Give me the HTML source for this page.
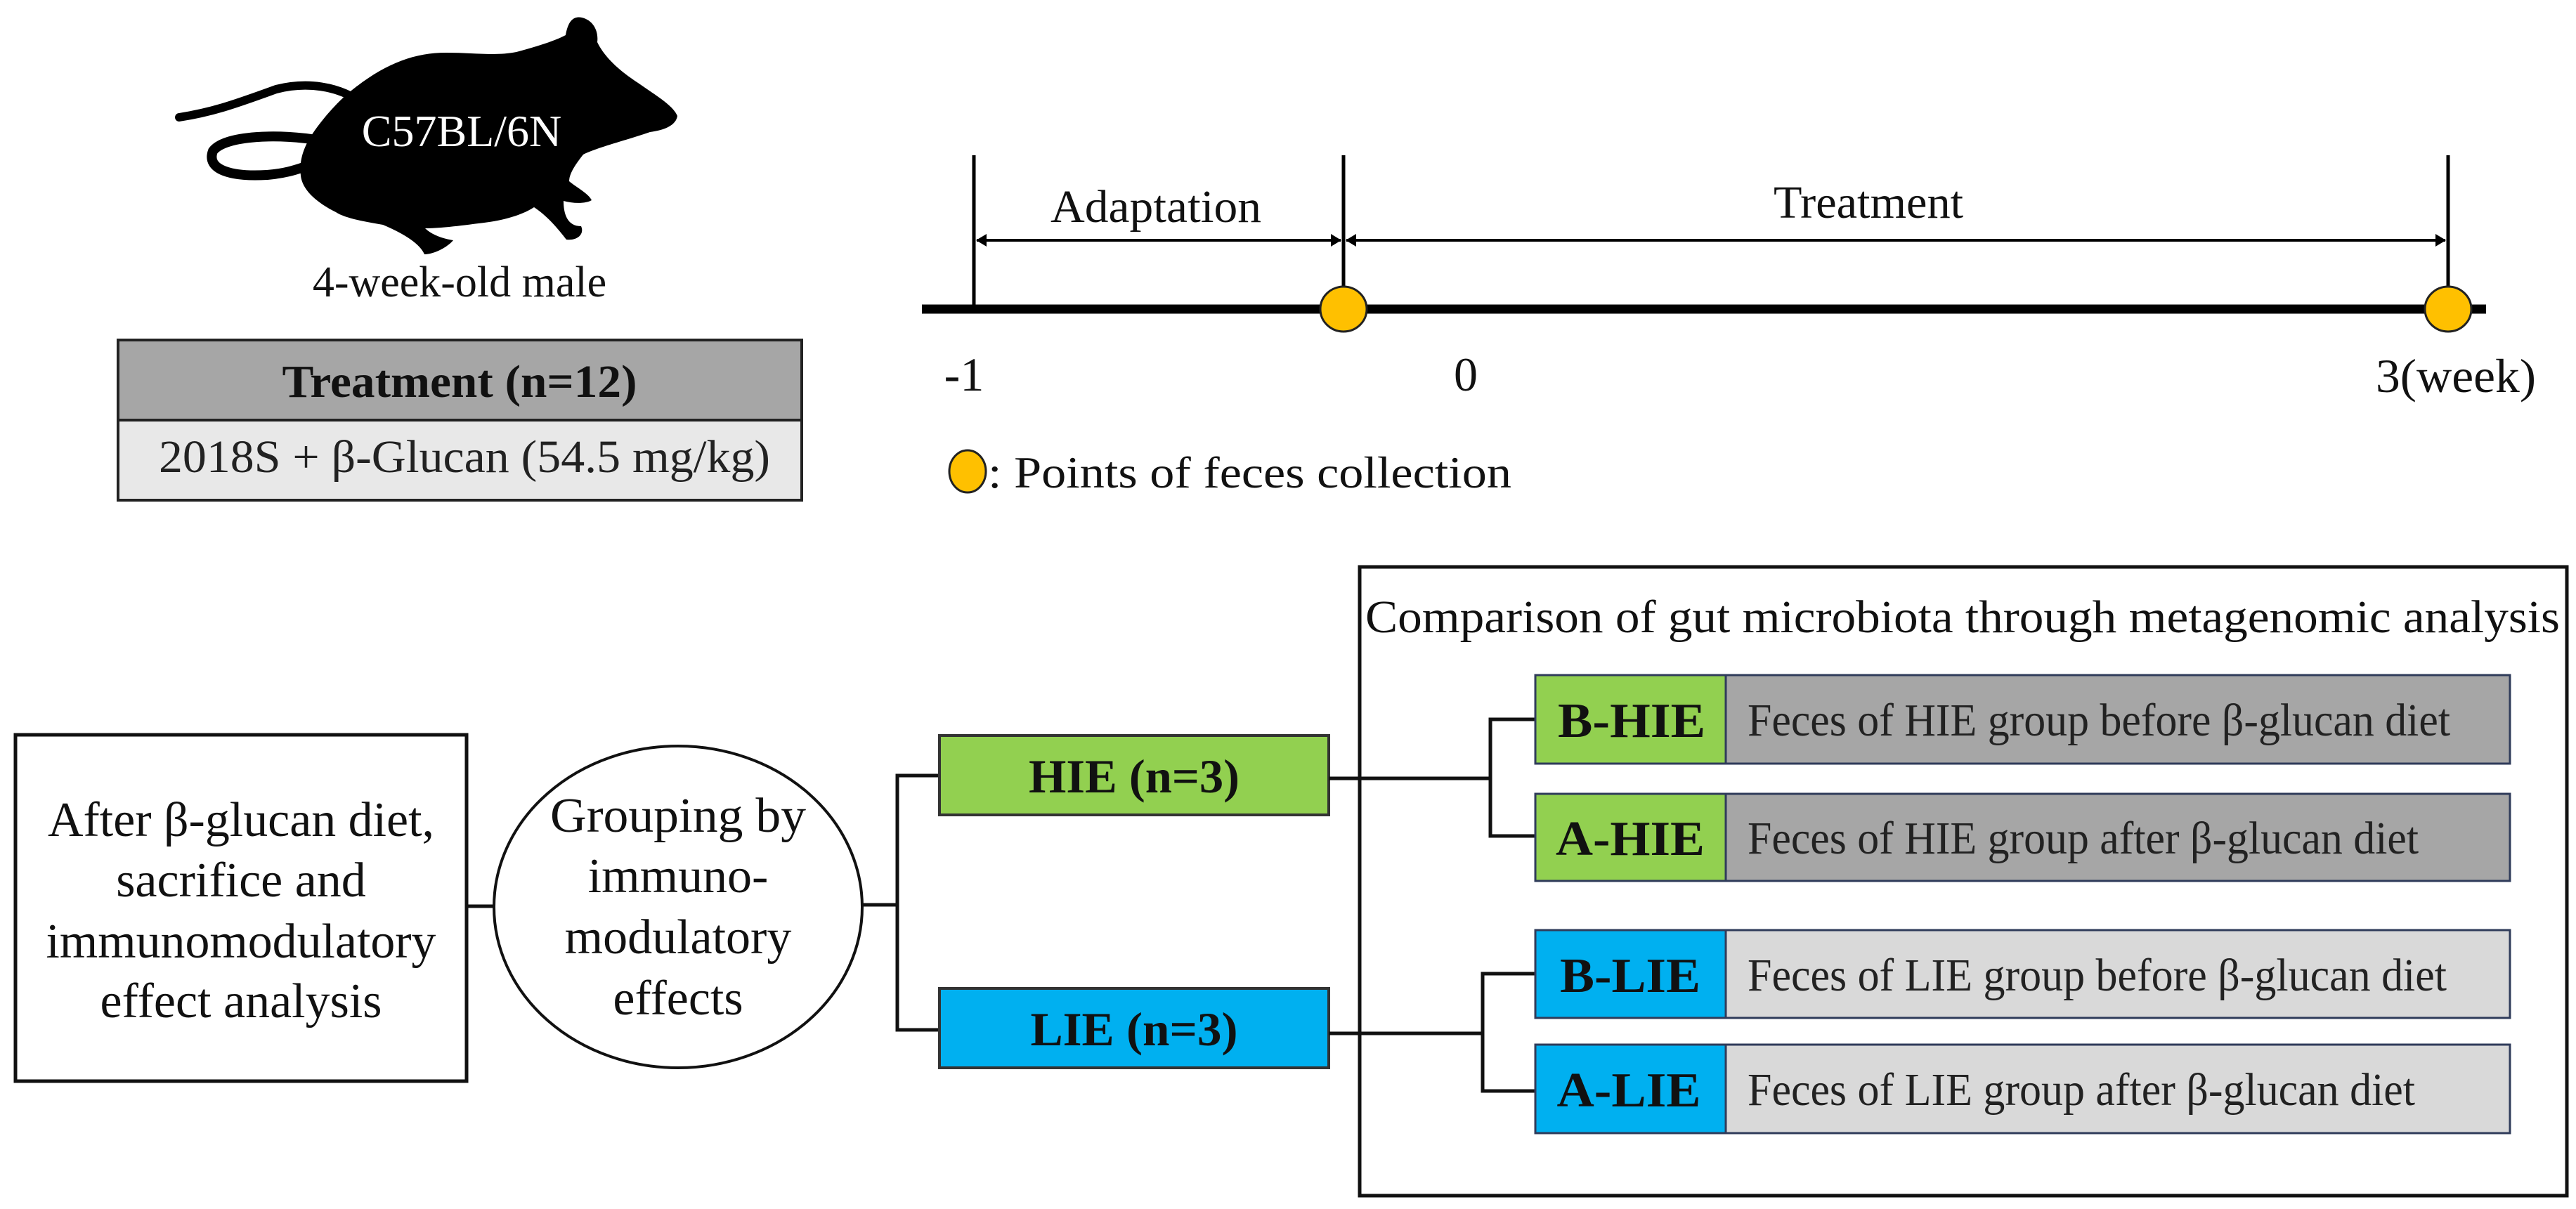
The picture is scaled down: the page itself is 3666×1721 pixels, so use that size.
<!DOCTYPE html>
<html><head><meta charset="utf-8"><style>
html,body{margin:0;padding:0;background:#fff;}
svg{display:block;}
text{font-family:"Liberation Serif",serif;}
</style></head><body>
<svg width="3666" height="1721" viewBox="0 0 3666 1721" xmlns="http://www.w3.org/2000/svg">
<!-- Mouse -->
<path d="M255 167 C300 160 330 150 393 127 C440 115 480 125 505 140" fill="none" stroke="#000" stroke-width="12" stroke-linecap="round"/>
<path d="M455 200 C400 190 320 192 303 215 C293 242 330 252 380 249 C405 247 420 242 432 238" fill="none" stroke="#000" stroke-width="14" stroke-linecap="round"/>
<path d="M505 125 C550 90 590 75 635 75 C675 75 705 80 735 74 C765 66 790 58 805 50 C808 32 815 22 828 25 C845 29 852 45 850 60 C862 85 888 105 908 118 C932 135 958 150 964 165 C962 178 947 185 925 188 C890 200 850 210 830 220 C818 235 810 248 810 258 C822 268 837 275 842 285 C834 290 816 290 802 286 C802 304 807 322 827 322 C832 333 822 343 806 341 C796 328 780 308 760 295 C740 308 710 315 681 318 C650 322 625 325 605 325 C615 335 632 340 645 342 C637 352 617 362 604 362 C598 348 578 334 545 320 C515 315 490 310 478 302 C450 288 430 270 428 250 C425 225 435 205 445 190 C462 165 485 140 505 125 Z" fill="#000"/>
<text x="657" y="208" font-size="64" fill="#fff" text-anchor="middle">C57BL/6N</text>
<text x="654" y="422" font-size="62" fill="#111" text-anchor="middle">4-week-old male</text>

<!-- Treatment table -->
<rect x="168" y="484" width="973" height="114" fill="#a6a6a6" stroke="#222" stroke-width="4"/>
<rect x="168" y="598" width="973" height="114" fill="#e8e8e8" stroke="#222" stroke-width="4"/>
<text x="654" y="565" font-size="66" font-weight="bold" fill="#111" text-anchor="middle" textLength="505" lengthAdjust="spacingAndGlyphs">Treatment (n=12)</text>
<text x="661" y="672" font-size="66" fill="#222" text-anchor="middle" textLength="870" lengthAdjust="spacingAndGlyphs">2018S + β-Glucan (54.5 mg/kg)</text>

<!-- Timeline -->
<line x1="1312" y1="440" x2="3538" y2="440" stroke="#000" stroke-width="13"/>
<line x1="1386" y1="221" x2="1386" y2="440" stroke="#000" stroke-width="5"/>
<line x1="1912" y1="221" x2="1912" y2="440" stroke="#000" stroke-width="5"/>
<line x1="3484" y1="221" x2="3484" y2="440" stroke="#000" stroke-width="5"/>
<line x1="1390" y1="342" x2="1908" y2="342" stroke="#000" stroke-width="4"/>
<line x1="1916" y1="342" x2="3480" y2="342" stroke="#000" stroke-width="4"/>
<polygon points="1389,342 1404,333 1404,351" fill="#000"/>
<polygon points="1909,342 1894,333 1894,351" fill="#000"/>
<polygon points="1915,342 1930,333 1930,351" fill="#000"/>
<polygon points="3481,342 3466,333 3466,351" fill="#000"/>
<text x="1645" y="316" font-size="66" fill="#111" text-anchor="middle" textLength="300" lengthAdjust="spacingAndGlyphs">Adaptation</text>
<text x="2659" y="310" font-size="66" fill="#111" text-anchor="middle" textLength="270" lengthAdjust="spacingAndGlyphs">Treatment</text>
<ellipse cx="1912" cy="440" rx="33" ry="32" fill="#ffc000" stroke="#222" stroke-width="3"/>
<ellipse cx="3484" cy="440" rx="33" ry="32" fill="#ffc000" stroke="#222" stroke-width="3"/>
<text x="1372" y="556" font-size="68" fill="#111" text-anchor="middle">-1</text>
<text x="2086" y="556" font-size="68" fill="#111" text-anchor="middle">0</text>
<text x="3495" y="558" font-size="68" fill="#111" text-anchor="middle" textLength="228" lengthAdjust="spacingAndGlyphs">3(week)</text>
<ellipse cx="1377" cy="671" rx="26" ry="30" fill="#ffc000" stroke="#222" stroke-width="3"/>
<text x="1406" y="694" font-size="64" fill="#111" textLength="745" lengthAdjust="spacingAndGlyphs">: Points of feces collection</text>

<!-- Bottom flow -->
<rect x="22" y="1046" width="642" height="493" fill="#fff" stroke="#111" stroke-width="5"/>
<g font-size="70" fill="#111" text-anchor="middle">
<text x="343" y="1190" textLength="550" lengthAdjust="spacingAndGlyphs">After β-glucan diet,</text>
<text x="343" y="1276">sacrifice and</text>
<text x="343" y="1363" textLength="555" lengthAdjust="spacingAndGlyphs">immunomodulatory</text>
<text x="343" y="1448">effect analysis</text>
</g>
<line x1="664" y1="1290" x2="707" y2="1290" stroke="#111" stroke-width="5"/>
<ellipse cx="965" cy="1291" rx="262" ry="229" fill="#fff" stroke="#111" stroke-width="4"/>
<g font-size="70" fill="#111" text-anchor="middle">
<text x="965" y="1184" textLength="364" lengthAdjust="spacingAndGlyphs">Grouping by</text>
<text x="965" y="1270">immuno-</text>
<text x="965" y="1357">modulatory</text>
<text x="965" y="1444">effects</text>
</g>
<line x1="1227" y1="1288" x2="1277" y2="1288" stroke="#111" stroke-width="5"/>
<polyline points="1337,1104 1277,1104 1277,1466 1337,1466" fill="none" stroke="#111" stroke-width="5"/>
<rect x="1337" y="1047" width="554" height="113" fill="#92d050" stroke="#333" stroke-width="4"/>
<rect x="1337" y="1407" width="554" height="113" fill="#00b0f0" stroke="#333" stroke-width="4"/>
<text x="1614" y="1128" font-size="68" font-weight="bold" fill="#111" text-anchor="middle" textLength="300" lengthAdjust="spacingAndGlyphs">HIE (n=3)</text>
<text x="1614" y="1488" font-size="68" font-weight="bold" fill="#111" text-anchor="middle" textLength="295" lengthAdjust="spacingAndGlyphs">LIE (n=3)</text>

<!-- Comparison box -->
<rect x="1935" y="807" width="1718" height="895" fill="#fff" stroke="#111" stroke-width="5"/>
<text x="2793" y="900" font-size="66" fill="#111" text-anchor="middle" textLength="1700" lengthAdjust="spacingAndGlyphs">Comparison of gut microbiota through metagenomic analysis</text>
<line x1="1891" y1="1108" x2="2121" y2="1108" stroke="#111" stroke-width="5"/>
<polyline points="2185,1024 2121,1024 2121,1190 2185,1190" fill="none" stroke="#111" stroke-width="5"/>
<line x1="1891" y1="1471" x2="2110" y2="1471" stroke="#111" stroke-width="5"/>
<polyline points="2185,1386 2110,1386 2110,1553 2185,1553" fill="none" stroke="#111" stroke-width="5"/>

<g stroke="#2f3b5a" stroke-width="3">
<rect x="2185" y="961" width="271" height="126" fill="#92d050"/>
<rect x="2456" y="961" width="1116" height="126" fill="#a6a6a6"/>
<rect x="2185" y="1130" width="271" height="124" fill="#92d050"/>
<rect x="2456" y="1130" width="1116" height="124" fill="#a6a6a6"/>
<rect x="2185" y="1324" width="271" height="125" fill="#00b0f0"/>
<rect x="2456" y="1324" width="1116" height="125" fill="#d9d9d9"/>
<rect x="2185" y="1487" width="271" height="126" fill="#00b0f0"/>
<rect x="2456" y="1487" width="1116" height="126" fill="#d9d9d9"/>
</g>
<g font-size="70" font-weight="bold" fill="#111" text-anchor="middle">
<text x="2322" y="1049" textLength="210" lengthAdjust="spacingAndGlyphs">B-HIE</text>
<text x="2320" y="1217" textLength="212" lengthAdjust="spacingAndGlyphs">A-HIE</text>
<text x="2320" y="1412" textLength="200" lengthAdjust="spacingAndGlyphs">B-LIE</text>
<text x="2318" y="1575" textLength="205" lengthAdjust="spacingAndGlyphs">A-LIE</text>
</g>
<g font-size="66" fill="#222">
<text x="2487" y="1047" textLength="1000" lengthAdjust="spacingAndGlyphs">Feces of HIE group before β-glucan diet</text>
<text x="2487" y="1215" textLength="955" lengthAdjust="spacingAndGlyphs">Feces of HIE group after β-glucan diet</text>
<text x="2487" y="1410" textLength="995" lengthAdjust="spacingAndGlyphs">Feces of LIE group before β-glucan diet</text>
<text x="2487" y="1573" textLength="950" lengthAdjust="spacingAndGlyphs">Feces of LIE group after β-glucan diet</text>
</g>
</svg>
</body></html>
